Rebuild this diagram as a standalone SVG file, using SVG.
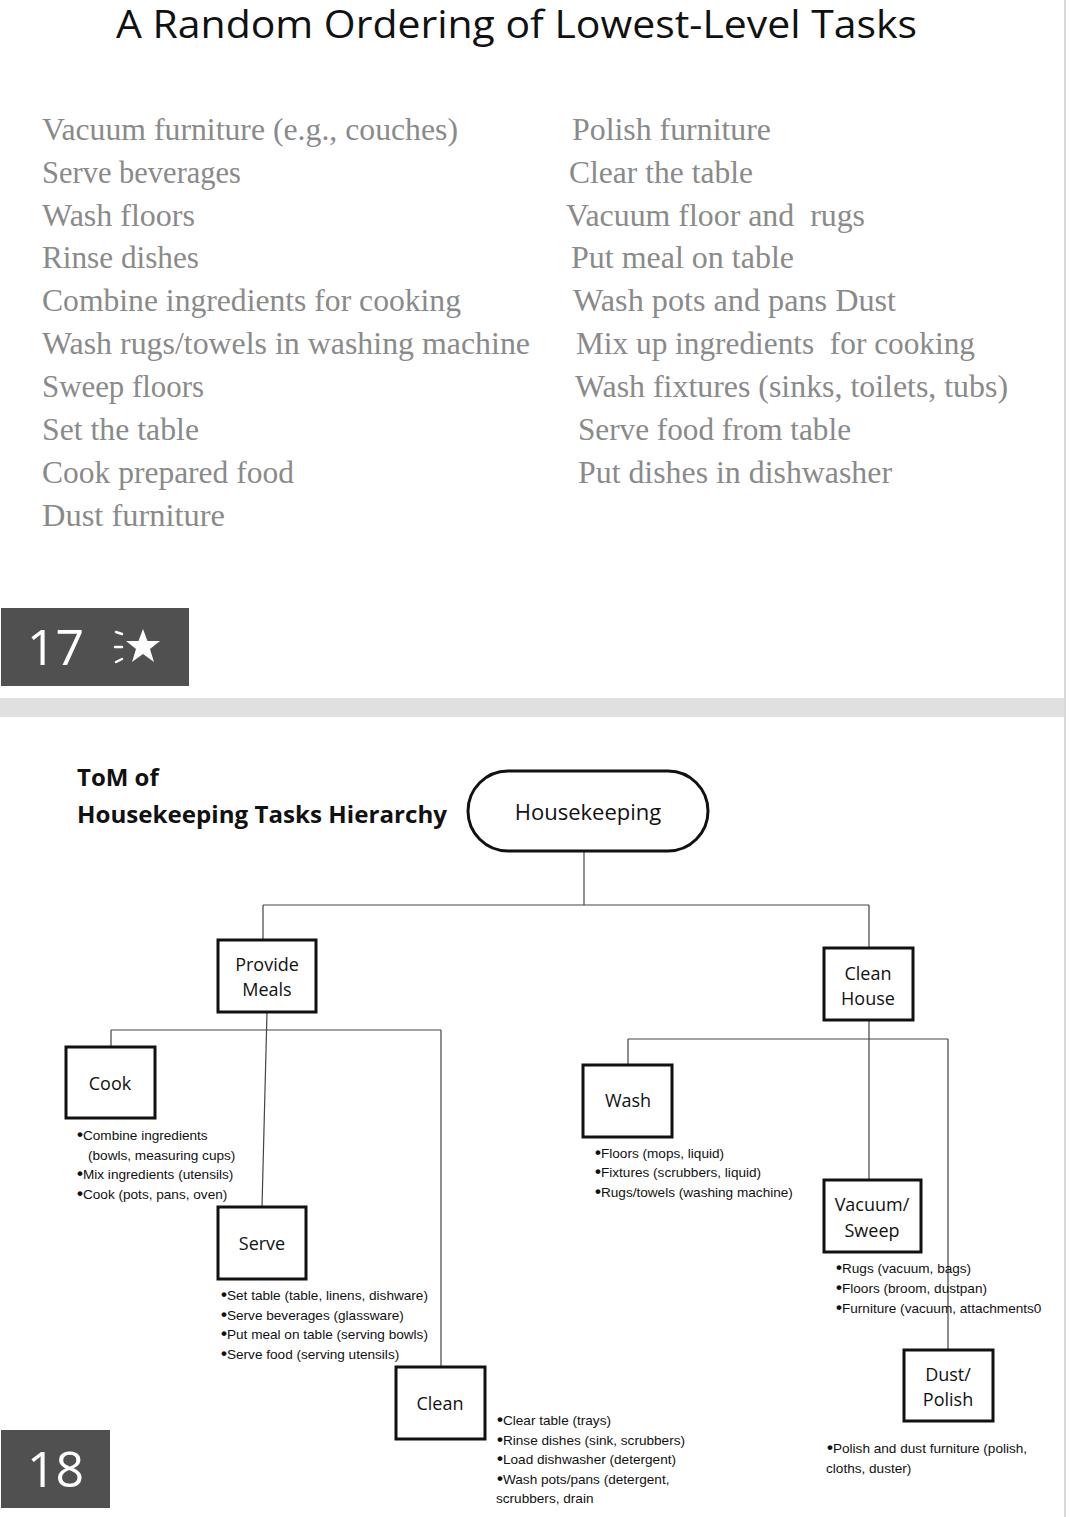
<svg xmlns="http://www.w3.org/2000/svg" width="1070" height="1517" viewBox="0 0 1070 1517">
<style>
.title{font-family:"Open Sans","Liberation Sans",sans-serif;font-size:38px;fill:#111}
.item{font-family:"Liberation Serif","DejaVu Serif",serif;font-size:31px;fill:#8a8a8a}
.badge{fill:#505050}
.bnum{font-family:"Open Sans","Liberation Sans",sans-serif;font-size:50px;fill:#fff}
.head{font-family:"Open Sans","Liberation Sans",sans-serif;font-size:24px;font-weight:bold;fill:#111}
.box{fill:#fff;stroke:#111;stroke-width:3}
.lbl{font-family:"Open Sans","Liberation Sans",sans-serif;font-size:18px;fill:#111;text-anchor:middle}
.big{font-size:22px}
.note{font-family:"Liberation Sans","Arial",sans-serif;font-size:13.6px;fill:#111}
.b{font-size:17px;font-weight:bold}
.conn line{stroke:#444;stroke-width:1.2}
</style>
<rect x="0" y="0" width="1070" height="1517" fill="#fff"/>
<rect x="0" y="698" width="1066" height="19" fill="#e0e0e0"/>
<line x1="1065" y1="0" x2="1065" y2="1517" stroke="#d8d8d8" stroke-width="2"/>

<g id="slide17">
<text class="title" x="116" y="38" textLength="801" lengthAdjust="spacingAndGlyphs">A Random Ordering of Lowest-Level Tasks</text>
<g lengthAdjust="spacingAndGlyphs">
<text class="item" x="42" y="140" textLength="416" lengthAdjust="spacingAndGlyphs">Vacuum furniture (e.g., couches)</text>
<text class="item" x="42" y="183" textLength="199" lengthAdjust="spacingAndGlyphs">Serve beverages</text>
<text class="item" x="42" y="226" textLength="153" lengthAdjust="spacingAndGlyphs">Wash floors</text>
<text class="item" x="42" y="268" textLength="157" lengthAdjust="spacingAndGlyphs">Rinse dishes</text>
<text class="item" x="42" y="311" textLength="419" lengthAdjust="spacingAndGlyphs">Combine ingredients for cooking</text>
<text class="item" x="42" y="354" textLength="488" lengthAdjust="spacingAndGlyphs">Wash rugs/towels in washing machine</text>
<text class="item" x="42" y="397" textLength="162" lengthAdjust="spacingAndGlyphs">Sweep floors</text>
<text class="item" x="42" y="440" textLength="157" lengthAdjust="spacingAndGlyphs">Set the table</text>
<text class="item" x="42" y="483" textLength="252" lengthAdjust="spacingAndGlyphs">Cook prepared food</text>
<text class="item" x="42" y="526" textLength="183" lengthAdjust="spacingAndGlyphs">Dust furniture</text>
<text class="item" x="572" y="140" textLength="199" lengthAdjust="spacingAndGlyphs">Polish furniture</text>
<text class="item" x="569" y="183" textLength="184" lengthAdjust="spacingAndGlyphs">Clear the table</text>
<text class="item" x="566" y="226" textLength="299" lengthAdjust="spacingAndGlyphs" xml:space="preserve">Vacuum floor and  rugs</text>
<text class="item" x="571" y="268" textLength="223" lengthAdjust="spacingAndGlyphs">Put meal on table</text>
<text class="item" x="573" y="311" textLength="323" lengthAdjust="spacingAndGlyphs">Wash pots and pans Dust</text>
<text class="item" x="576" y="354" textLength="399" lengthAdjust="spacingAndGlyphs" xml:space="preserve">Mix up ingredients  for cooking</text>
<text class="item" x="575" y="397" textLength="433" lengthAdjust="spacingAndGlyphs">Wash fixtures (sinks, toilets, tubs)</text>
<text class="item" x="578" y="440" textLength="273" lengthAdjust="spacingAndGlyphs">Serve food from table</text>
<text class="item" x="578" y="483" textLength="314" lengthAdjust="spacingAndGlyphs">Put dishes in dishwasher</text>
</g>
<rect class="badge" x="1" y="608" width="188" height="78"/>
<text class="bnum" x="27" y="665">17</text>
<polygon points="143,629 147.5,641 160,641 150,649 154,662 143,654 132,662 136,649 126,641 138.5,641" fill="#fff"/>
<g stroke="#fff" stroke-width="2.5" stroke-linecap="round">
<line x1="116" y1="632" x2="122" y2="634"/>
<line x1="115" y1="647" x2="122" y2="647"/>
<line x1="116" y1="662" x2="122" y2="659"/>
</g>
</g>

<text class="head" x="77" y="786">ToM of</text>
<text class="head" x="77" y="823" textLength="370" lengthAdjust="spacingAndGlyphs">Housekeeping Tasks Hierarchy</text>

<g class="conn" id="connectors">
<line x1="584" y1="851" x2="584" y2="905"/>
<line x1="263" y1="905" x2="869" y2="905"/>
<line x1="263" y1="905" x2="263" y2="940"/>
<line x1="869" y1="905" x2="869" y2="948"/>
<line x1="267" y1="1012" x2="262" y2="1207"/>
<line x1="111" y1="1030" x2="441" y2="1030"/>
<line x1="111" y1="1030" x2="111" y2="1047"/>
<line x1="441" y1="1030" x2="441" y2="1367"/>
<line x1="869" y1="1020" x2="869" y2="1180"/>
<line x1="628" y1="1039" x2="948" y2="1039"/>
<line x1="628" y1="1039" x2="628" y2="1065"/>
<line x1="948" y1="1039" x2="948" y2="1350"/>
</g>

<g id="housekeeping">
<rect class="box" x="468" y="771" width="240" height="80" rx="40"/>
<text class="lbl big" x="588" y="820">Housekeeping</text>
</g>
<g id="provide-meals">
<rect class="box" x="218" y="940" width="98" height="72"/>
<text class="lbl" x="267" y="971">Provide</text>
<text class="lbl" x="267" y="996">Meals</text>
</g>
<g id="clean-house">
<rect class="box" x="824" y="948" width="89" height="72"/>
<text class="lbl" x="868" y="980">Clean</text>
<text class="lbl" x="868" y="1005">House</text>
</g>
<g id="cook">
<rect class="box" x="66" y="1047" width="89" height="71"/>
<text class="lbl" x="110" y="1090">Cook</text>
<text class="note" x="77" y="1140"><tspan class="b">•</tspan>Combine ingredients</text>
<text class="note" x="88" y="1160">(bowls, measuring cups)</text>
<text class="note" x="77" y="1179"><tspan class="b">•</tspan>Mix ingredients (utensils)</text>
<text class="note" x="77" y="1199"><tspan class="b">•</tspan>Cook (pots, pans, oven)</text>
</g>
<g id="serve">
<rect class="box" x="218" y="1207" width="88" height="72"/>
<text class="lbl" x="262" y="1250">Serve</text>
<text class="note" x="221" y="1300"><tspan class="b">•</tspan>Set table (table, linens, dishware)</text>
<text class="note" x="221" y="1320"><tspan class="b">•</tspan>Serve beverages (glassware)</text>
<text class="note" x="221" y="1339"><tspan class="b">•</tspan>Put meal on table (serving bowls)</text>
<text class="note" x="221" y="1359"><tspan class="b">•</tspan>Serve food (serving utensils)</text>
</g>
<g id="clean">
<rect class="box" x="396" y="1367" width="89" height="72"/>
<text class="lbl" x="440" y="1410">Clean</text>
<text class="note" x="497" y="1425"><tspan class="b">•</tspan>Clear table (trays)</text>
<text class="note" x="497" y="1445"><tspan class="b">•</tspan>Rinse dishes (sink, scrubbers)</text>
<text class="note" x="497" y="1464"><tspan class="b">•</tspan>Load dishwasher (detergent)</text>
<text class="note" x="497" y="1484"><tspan class="b">•</tspan>Wash pots/pans (detergent,</text>
<text class="note" x="496" y="1503">scrubbers, drain</text>
</g>
<g id="wash">
<rect class="box" x="583" y="1065" width="89" height="72"/>
<text class="lbl" x="628" y="1107">Wash</text>
<text class="note" x="595" y="1158"><tspan class="b">•</tspan>Floors (mops, liquid)</text>
<text class="note" x="595" y="1177"><tspan class="b">•</tspan>Fixtures (scrubbers, liquid)</text>
<text class="note" x="595" y="1197"><tspan class="b">•</tspan>Rugs/towels (washing machine)</text>
</g>
<g id="vacuum-sweep">
<rect class="box" x="824" y="1180" width="97" height="72"/>
<text class="lbl" x="872" y="1211">Vacuum/</text>
<text class="lbl" x="872" y="1237">Sweep</text>
<text class="note" x="836" y="1273"><tspan class="b">•</tspan>Rugs (vacuum, bags)</text>
<text class="note" x="836" y="1293"><tspan class="b">•</tspan>Floors (broom, dustpan)</text>
<text class="note" x="836" y="1313"><tspan class="b">•</tspan>Furniture (vacuum, attachments0</text>
</g>
<g id="dust-polish">
<rect class="box" x="904" y="1350" width="89" height="71"/>
<text class="lbl" x="948" y="1381">Dust/</text>
<text class="lbl" x="948" y="1406">Polish</text>
<text class="note" x="827" y="1453"><tspan class="b">•</tspan>Polish and dust furniture (polish,</text>
<text class="note" x="826" y="1473">cloths, duster)</text>
</g>
<g id="badge18">
<rect class="badge" x="1" y="1430" width="109" height="78"/>
<text class="bnum" x="27" y="1487">18</text>
</g>
</svg>
